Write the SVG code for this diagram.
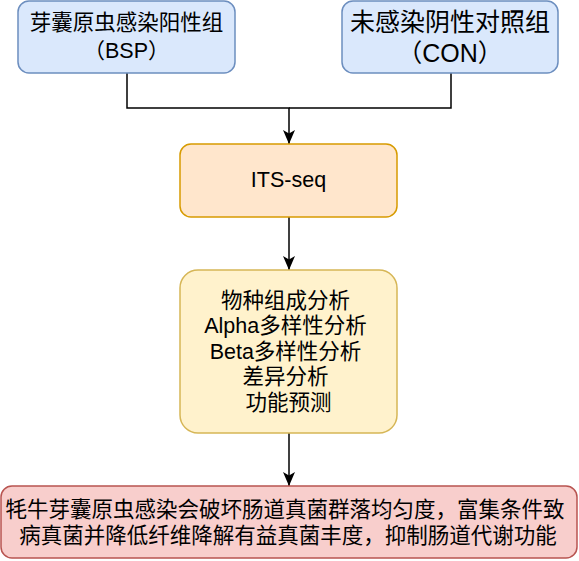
<svg xmlns="http://www.w3.org/2000/svg" width="579" height="561" viewBox="0 0 579 561">
<defs>
<style>
text{font-family:"Liberation Sans","Noto Sans CJK SC",sans-serif;fill:#000;text-anchor:middle}
.blue{fill:#dae8fc;stroke:#6c8ebf;stroke-width:1.5}
.orange{fill:#ffe6cc;stroke:#d79b00;stroke-width:1.5}
.yellow{fill:#fff2cc;stroke:#d6b656;stroke-width:1.5}
.red{fill:#f8cecc;stroke:#b85450;stroke-width:1.5}
.edge{fill:none;stroke:#000;stroke-width:1.5}
</style>
<marker id="arrow" viewBox="0 0 14 14" refX="14" refY="7" markerWidth="14" markerHeight="14" markerUnits="userSpaceOnUse" orient="auto">
<path d="M0,1 L14,7 L0,13 L3.5,7 Z" fill="#000"/>
</marker>
</defs>
<g id="connectors">
<path class="edge" d="M127,73 L127,108 L289,108 L289,144" marker-end="url(#arrow)"/>
<path class="edge" d="M451,73 L451,108 L289,108"/>
<path class="edge" d="M289,217 L289,270" marker-end="url(#arrow)"/>
<path class="edge" d="M289,433 L289,486" marker-end="url(#arrow)"/>
</g>
<g id="node-bsp">
<rect class="blue" x="18" y="1" width="217" height="72" rx="11" ry="11"/>
<text x="126.5" y="30" font-size="21.5">芽囊原虫感染阳性组</text>
<text x="126.5" y="58" font-size="21.5">（BSP）</text>
</g>
<g id="node-con">
<rect class="blue" x="342" y="1" width="216" height="72" rx="11" ry="11"/>
<text x="450" y="31" font-size="25">未感染阴性对照组</text>
<text x="450" y="62" font-size="25">（CON）</text>
</g>
<g id="node-its">
<rect class="orange" x="180" y="144" width="217" height="73" rx="11" ry="11"/>
<text x="288.5" y="187" font-size="21.5">ITS-seq</text>
</g>
<g id="node-analysis">
<rect class="yellow" x="180" y="270" width="217" height="163" rx="18" ry="18"/>
<text font-size="21.5">
<tspan x="288.5" y="307.5">物种组成分析</tspan>
<tspan x="288.5" y="333">Alpha多样性分析</tspan>
<tspan x="288.5" y="358.5">Beta多样性分析</tspan>
<tspan x="288.5" y="384">差异分析</tspan>
<tspan x="288.5" y="409.5">功能预测</tspan>
</text>
</g>
<g id="node-conclusion">
<rect class="red" x="1" y="486" width="576" height="72" rx="11" ry="11"/>
<text font-size="21.5">
<tspan x="288" y="516.5">牦牛芽囊原虫感染会破坏肠道真菌群落均匀度，富集条件致</tspan>
<tspan x="288" y="543">病真菌并降低纤维降解有益真菌丰度，抑制肠道代谢功能</tspan>
</text>
</g>
</svg>
